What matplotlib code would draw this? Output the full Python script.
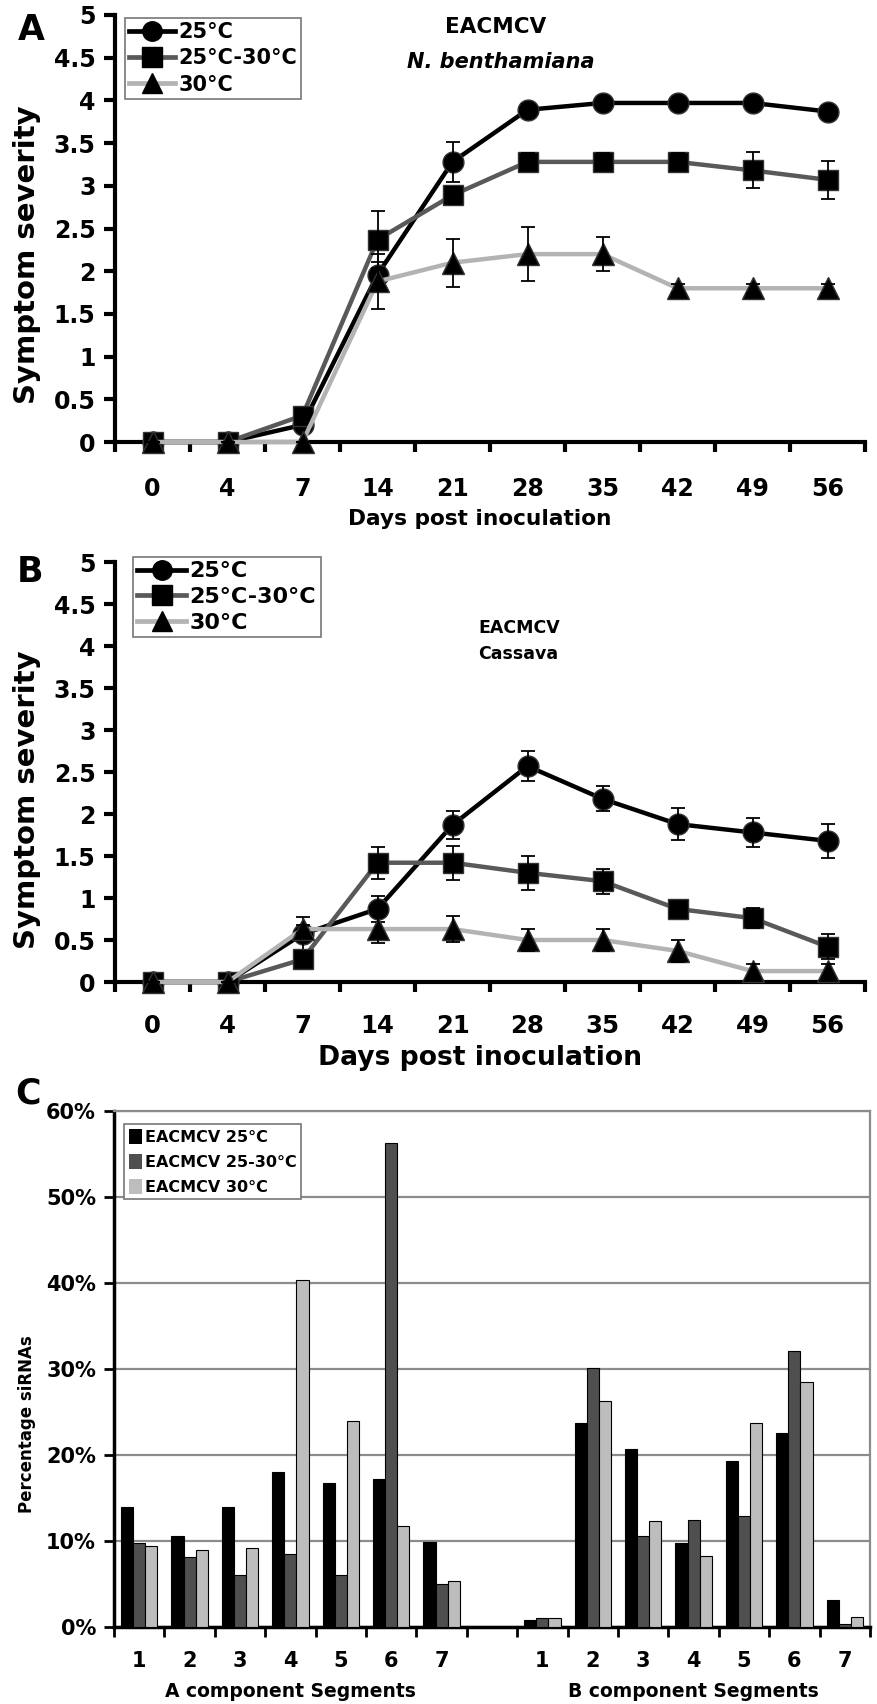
import numpy as np
import matplotlib
matplotlib.use("Agg")
import matplotlib.pyplot as plt
from matplotlib import font_manager
from matplotlib.lines import Line2D

# data
days = ["0", "4", "7", "14", "21", "28", "35", "42", "49", "56"]
series_names = ["25°C", "25°C-30°C", "30°C"]

# panel A - N. benthamiana
a_25 = [0, 0, 0.2, 1.96, 3.28, 3.89, 3.97, 3.97, 3.97, 3.87]
a_2530 = [0, 0, 0.31, 2.37, 2.89, 3.28, 3.28, 3.28, 3.18, 3.07]
a_30 = [0, 0, 0, 1.88, 2.1, 2.2, 2.2, 1.8, 1.8, 1.8]
a_25_err = [0, 0, 0.05, 0.15, 0.23, 0.07, 0.05, 0.05, 0.05, 0.07]
a_2530_err = [0, 0, 0.07, 0.33, 0.1, 0.1, 0.1, 0.1, 0.21, 0.22]
a_30_err = [0, 0, 0, 0.32, 0.28, 0.32, 0.2, 0.05, 0.05, 0.05]

# panel B - cassava
b_25 = [0, 0, 0.57, 0.87, 1.87, 2.57, 2.18, 1.88, 1.78, 1.68]
b_2530 = [0, 0, 0.27, 1.42, 1.42, 1.3, 1.2, 0.87, 0.76, 0.42]
b_30 = [0, 0, 0.63, 0.63, 0.63, 0.5, 0.5, 0.37, 0.13, 0.13]
b_25_err = [0, 0, 0.2, 0.15, 0.17, 0.18, 0.15, 0.19, 0.17, 0.2]
b_2530_err = [0, 0, 0.08, 0.19, 0.2, 0.2, 0.15, 0.07, 0.12, 0.15]
b_30_err = [0, 0, 0.05, 0.17, 0.15, 0.13, 0.13, 0.13, 0.09, 0.09]

# panel C - siRNA percentages (A segments 1-7, empty gap, B segments 1-7)
seg_labels = ["1", "2", "3", "4", "5", "6", "7", "", "1", "2", "3", "4", "5", "6", "7"]
bar_names = ["EACMCV 25°C", "EACMCV 25-30°C", "EACMCV 30°C"]
c_25 = [14.0, 10.6, 14.0, 18.0, 16.8, 17.2, 9.9, 0, 0.8, 23.7, 20.7, 9.8, 19.3, 22.6, 3.1]
c_2530 = [9.8, 8.1, 6.0, 8.5, 6.0, 56.3, 5.0, 0, 1.0, 30.1, 10.6, 12.5, 12.9, 32.1, 0.3]
c_30 = [9.4, 9.0, 9.2, 40.4, 23.9, 11.8, 5.4, 0, 1.0, 26.3, 12.3, 8.3, 23.7, 28.5, 1.2]

line_colors = ["#000000", "#595959", "#b3b3b3"]
markers = ["o", "s", "^"]
msizes = [15, 15, 16]
bar_colors = ["#000000", "#4f4f4f", "#bdbdbd"]


def has_font(name):
    try:
        font_manager.findfont(font_manager.FontProperties(family=name, weight="bold"),
                              fallback_to_default=False)
        return True
    except Exception:
        return False


NARROW = "Liberation Sans Narrow" if has_font("Liberation Sans Narrow") else "DejaVu Sans"
narrow_scale = 1.0 if NARROW != "DejaVu Sans" else 0.8

plt.rcParams["font.family"] = "DejaVu Sans"
plt.rcParams["font.weight"] = "bold"

W, H = 877, 1704
fig = plt.figure(figsize=(W / 100, H / 100), dpi=100)


def fx(px):
    return px / W


def fy(py):
    return 1 - py / H


def line_panel(ax, vals, errs, tick_font, tick_size, tick_pad):
    x = np.arange(len(days))
    order = [2, 0, 1]
    for i in order:
        ax.plot(x, vals[i], color=line_colors[i], lw=3.2, marker=markers[i],
                ms=msizes[i], mfc="black", mec="#333333", mew=1.0,
                clip_on=False, zorder=3 + i)
        ax.errorbar(x, vals[i], yerr=errs[i], fmt="none", ecolor="black",
                    elinewidth=1.3, capsize=5, capthick=1.3, clip_on=False,
                    zorder=3 + i)
    ax.set_xlim(-0.5, len(days) - 0.5)
    ax.set_ylim(0, 5)
    yt = np.arange(0, 5.01, 0.5)
    ax.set_yticks(yt)
    ax.set_yticklabels(["%g" % v for v in yt], fontsize=17, fontweight="bold")
    ax.set_xticks(np.arange(-0.5, len(days), 1.0))
    ax.set_xticklabels([])
    ax.set_xticks(x, minor=True)
    ax.set_xticklabels(days, minor=True, fontsize=tick_size, fontweight="bold",
                       family=tick_font)
    ax.tick_params(axis="x", which="minor", length=0, pad=tick_pad)
    ax.tick_params(axis="x", which="major", length=7, width=3, direction="out")
    ax.tick_params(axis="y", length=8, width=3, direction="out", pad=6)
    for s in ["top", "right"]:
        ax.spines[s].set_visible(False)
    for s in ["left", "bottom"]:
        ax.spines[s].set_linewidth(3)
    handles = [Line2D([], [], color=line_colors[i], lw=3.4, marker=markers[i],
                      ms=msizes[i] - 1, mfc="black", mec="black")
               for i in range(3)]
    return handles


# ---- panel A
axA = fig.add_axes([fx(115), fy(442), fx(750), (442 - 15) / H])
hA = line_panel(axA, [a_25, a_2530, a_30], [a_25_err, a_2530_err, a_30_err],
                "DejaVu Sans", 17, 25)
legA = fig.legend(hA, series_names, loc="upper left",
                  bbox_to_anchor=(fx(125), fy(18)), frameon=True, fancybox=False,
                  edgecolor="#777777", framealpha=1, fontsize=15, handlelength=2.2,
                  handletextpad=0.15, borderpad=0.2, labelspacing=0.3,
                  borderaxespad=0)
legA.get_frame().set_linewidth(1.2)
fig.text(fx(496), fy(27), "EACMCV", ha="center", va="center", fontsize=15.5,
         fontweight="bold")
fig.text(fx(501), fy(62), "N. benthamiana", ha="center", va="center", fontsize=15,
         fontweight="bold", style="italic")
fig.text(fx(31), fy(30), "A", ha="center", va="center", fontsize=25, fontweight="bold")
fig.text(fx(27), fy(255), "Symptom severity", ha="center", va="center", rotation=90,
         fontsize=21, fontweight="bold")
fig.text(fx(480), fy(519), "Days post inoculation", ha="center", va="center",
         fontsize=17 * narrow_scale + (0 if NARROW != "DejaVu Sans" else 2),
         fontweight="bold", family=NARROW)

# ---- panel B
axB = fig.add_axes([fx(115), fy(982), fx(750), (982 - 562) / H])
hB = line_panel(axB, [b_25, b_2530, b_30], [b_25_err, b_2530_err, b_30_err],
                NARROW, 22 * narrow_scale, 23)
legB = fig.legend(hB, series_names, loc="upper left",
                  bbox_to_anchor=(fx(133), fy(557)), frameon=True, fancybox=False,
                  edgecolor="#777777", framealpha=1, fontsize=16, handlelength=2.2,
                  handletextpad=0.15, borderpad=0.2, labelspacing=0.25,
                  borderaxespad=0)
legB.get_frame().set_linewidth(1.2)
fig.text(fx(478), fy(628), "EACMCV", ha="left", va="center", fontsize=12.5,
         fontweight="bold")
fig.text(fx(478), fy(654), "Cassava", ha="left", va="center", fontsize=12.5,
         fontweight="bold")
fig.text(fx(30), fy(572), "B", ha="center", va="center", fontsize=25, fontweight="bold")
fig.text(fx(27), fy(800), "Symptom severity", ha="center", va="center", rotation=90,
         fontsize=21, fontweight="bold")
fig.text(fx(480), fy(1058), "Days post inoculation", ha="center", va="center",
         fontsize=24 * narrow_scale, fontweight="bold", family=NARROW)

# ---- panel C
axC = fig.add_axes([fx(114), fy(1627), fx(756), (1627 - 1111) / H])
xc = np.arange(len(seg_labels))
bw = 0.24
for k, vals in enumerate([c_25, c_2530, c_30]):
    axC.bar(xc + (k - 1) * bw, vals, width=bw, color=bar_colors[k],
            edgecolor="black", linewidth=0.8, label=bar_names[k], zorder=3)
axC.set_xlim(-0.5, len(seg_labels) - 0.5)
axC.set_ylim(0, 60)
axC.set_yticks(np.arange(0, 61, 10))
axC.set_yticklabels(["%d%%" % v for v in range(0, 61, 10)], fontsize=15,
                    fontweight="bold")
axC.yaxis.grid(True, color="#8c8c8c", lw=1.6, zorder=0)
axC.set_xticks(np.arange(-0.5, len(seg_labels), 1.0))
axC.set_xticklabels([])
axC.set_xticks(xc, minor=True)
axC.set_xticklabels(seg_labels, minor=True, fontsize=15, fontweight="bold")
axC.tick_params(axis="x", which="minor", length=0, pad=17)
axC.tick_params(axis="x", which="major", length=7, width=2, direction="out")
axC.tick_params(axis="y", length=7, width=2, direction="out", pad=6)
for s in ["top", "right"]:
    axC.spines[s].set_color("#8c8c8c")
    axC.spines[s].set_linewidth(1.6)
for s in ["left", "bottom"]:
    axC.spines[s].set_linewidth(2.5)
legC = axC.legend(loc="upper left", bbox_to_anchor=(fx(124), fy(1124)),
                  bbox_transform=fig.transFigure, frameon=True, fancybox=False,
                  edgecolor="#777777", framealpha=1, fontsize=11.5,
                  handlelength=0.8, handleheight=1.1, handletextpad=0.2,
                  borderpad=0.3, labelspacing=0.55, borderaxespad=0)
legC.get_frame().set_linewidth(1.2)
for p in legC.get_patches():
    p.set_edgecolor("none")
axC.text(3, -0.125, "A component Segments", transform=axC.get_xaxis_transform(),
         ha="center", va="center", fontsize=13.5, fontweight="bold")
axC.text(11, -0.125, "B component Segments", transform=axC.get_xaxis_transform(),
         ha="center", va="center", fontsize=13.5, fontweight="bold")
fig.text(fx(28), fy(1094), "C", ha="center", va="center", fontsize=25, fontweight="bold")
fig.text(fx(27), fy(1424), "Percentage siRNAs", ha="center", va="center", rotation=90,
         fontsize=12, fontweight="bold")

fig.savefig("out.png", dpi=100)
